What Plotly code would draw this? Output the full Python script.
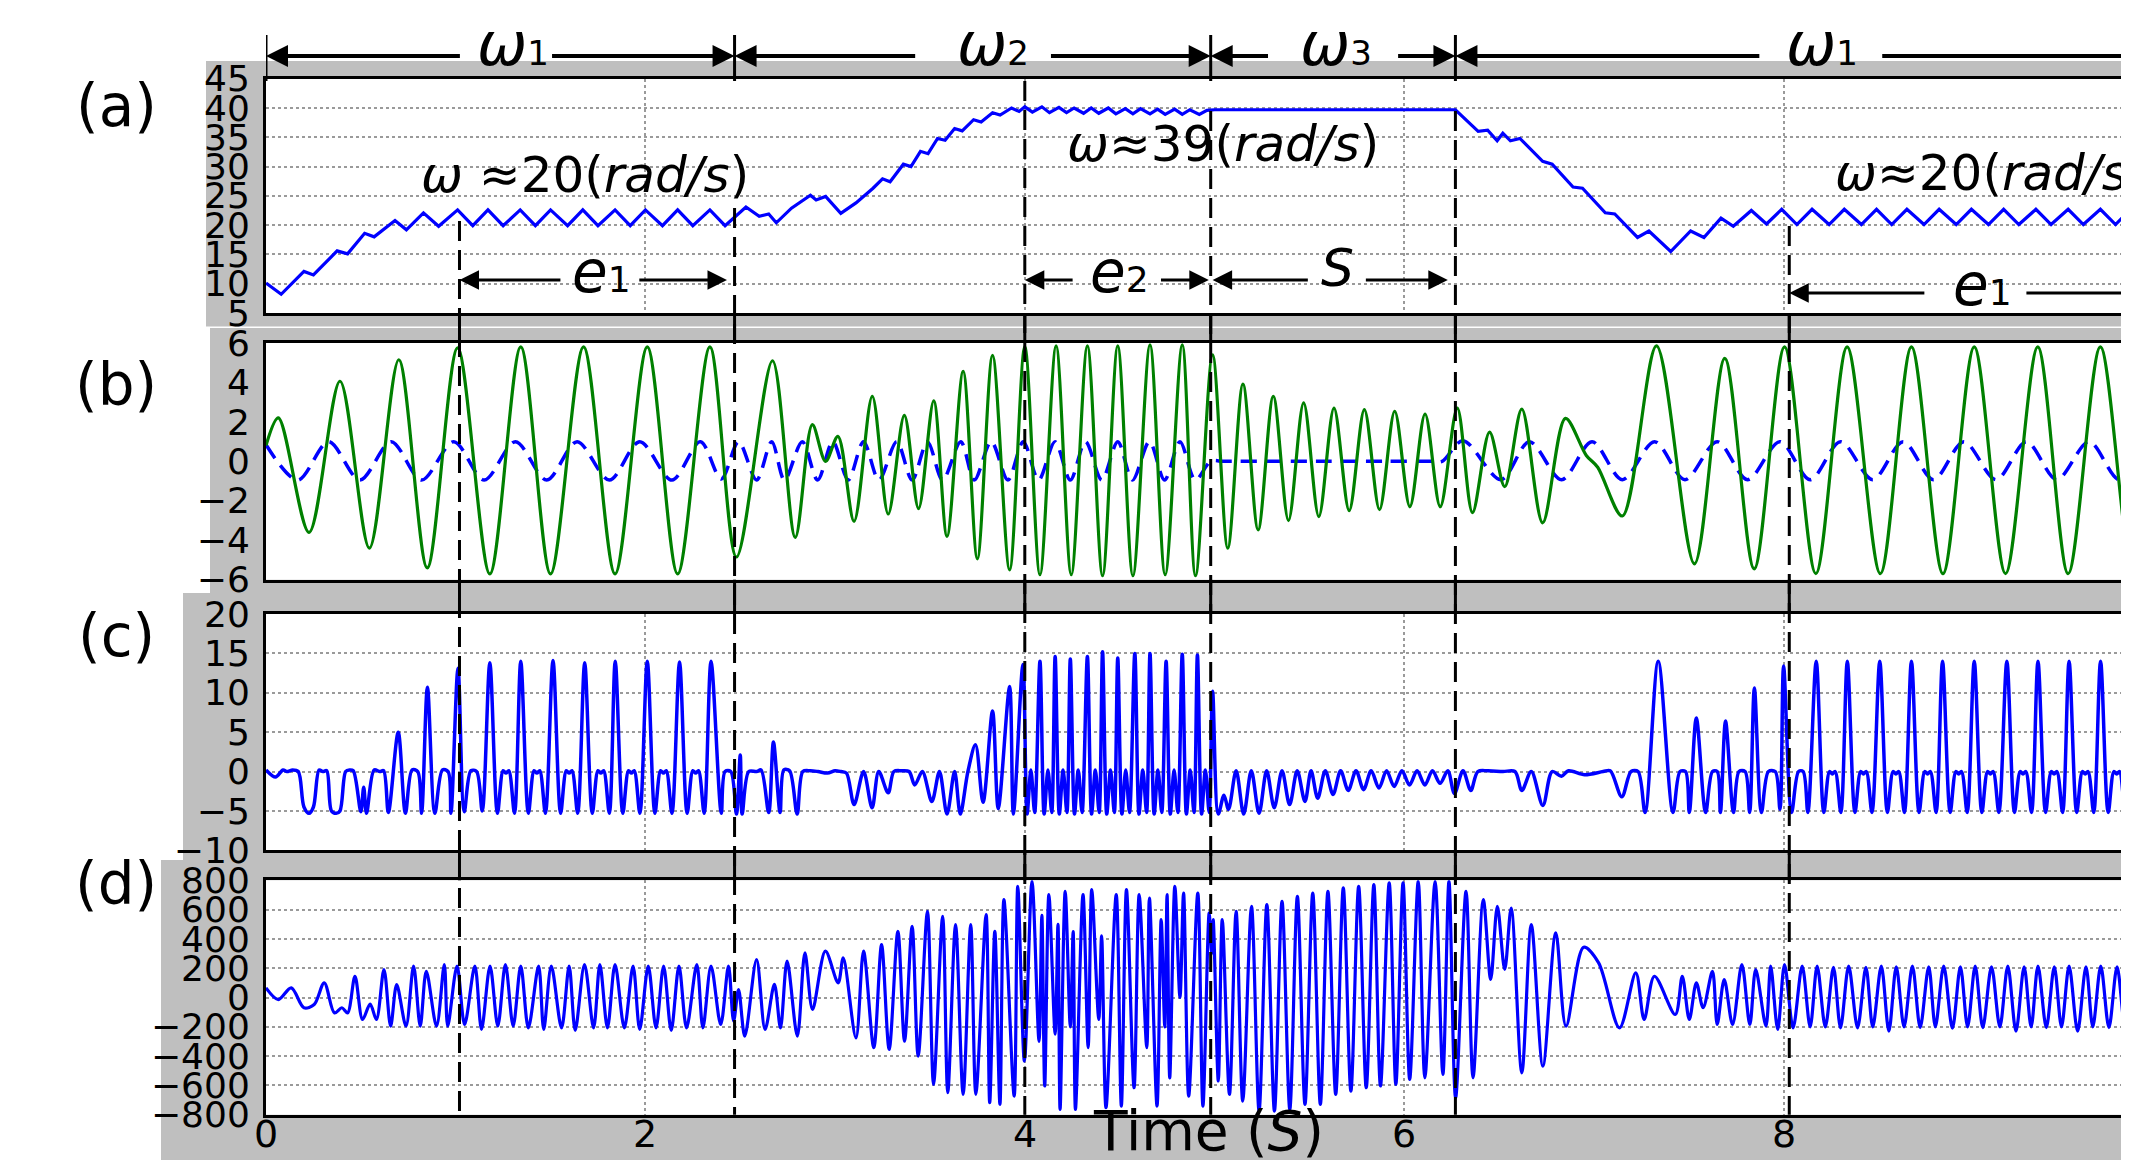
import plotly.graph_objects as go

# ---------------- data ----------------
time_ticks = [0, 2, 4, 6, 8]
grid_ticks = [2, 4, 6, 8]
y_ticks_a = [5, 10, 15, 20, 25, 30, 35, 40, 45]
y_ticks_b = [-6, -4, -2, 0, 2, 4, 6]
y_ticks_c = [-10, -5, 0, 5, 10, 15, 20]
y_ticks_d = [-800, -600, -400, -200, 0, 200, 400, 600, 800]

# (a) angular speed omega (rad/s)
omega_pts = [(0.00,10.1),(0.08,8.2),(0.20,12.1),(0.25,11.5),(0.375,15.6),(0.43,15.1),(0.52,18.6),(0.57,18.0),
 (0.68,20.8),(0.74,19.2),(0.83,22.1),(0.91,19.8),(1.01,22.6),(1.09,19.9),(1.17,22.6),(1.25,19.9),(1.34,22.6),
 (1.42,19.9),(1.50,22.6),(1.59,19.9),(1.67,22.6),(1.75,19.9),(1.84,22.6),(1.92,19.9),(2.00,22.6),(2.09,19.9),
 (2.17,22.6),(2.25,19.9),(2.34,22.6),(2.42,19.9),(2.53,23.1),(2.60,21.5),(2.65,21.9),(2.69,20.4),(2.77,22.9),
 (2.87,25.1),(2.90,24.3),(2.95,24.9),(3.03,22.0),(3.11,23.8),(3.20,26.3),(3.25,27.9),(3.29,27.4),(3.36,30.4),
 (3.40,30.0),(3.45,32.6),(3.49,32.2),(3.54,34.8),(3.58,34.5),(3.63,36.5),(3.67,36.1),(3.73,38.0),(3.77,37.6),
 (3.83,39.2),(3.87,38.8),(3.93,40.0),(3.97,39.4),(4.00,40.2),(4.04,39.3),(4.09,40.2),(4.13,39.2),(4.18,40.1),
 (4.22,39.2),(4.26,40.0),(4.31,39.1),(4.35,40.0),(4.39,39.1),(4.44,40.0),(4.48,39.0),(4.53,39.9),(4.57,39.0),
 (4.61,39.9),(4.66,39.0),(4.70,39.8),(4.74,38.9),(4.79,39.8),(4.83,38.9),(4.87,39.7),(4.92,38.9),(4.96,39.6),
 (5.00,39.7),(6.27,39.7),(6.39,36.0),(6.44,36.2),(6.49,34.4),(6.52,35.7),(6.56,34.4),(6.61,34.8),(6.73,30.9),
 (6.78,30.4),(6.89,26.5),(6.94,26.3),(7.06,22.1),(7.11,21.9),(7.23,17.9),(7.29,19.0),(7.405,15.5),(7.51,19.0),
 (7.58,17.9),(7.67,21.2),(7.735,19.8),(7.83,22.5),(7.91,20.2),(7.99,22.7),(8.07,20.1),(8.15,22.7),(8.24,20.1),
 (8.32,22.7),(8.41,20.1),(8.49,22.7),(8.57,20.1),(8.65,22.7),(8.74,20.1),(8.82,22.7),(8.91,20.1),(8.99,22.7),
 (9.08,20.1),(9.16,22.7),(9.24,20.1),(9.33,22.7),(9.41,20.1),(9.50,22.7),(9.58,20.1),(9.67,22.7),(9.75,20.1),
 (9.83,22.7),(9.92,20.1)]

# (b) green solid signal
green_pts = [(0.00,0.8),(0.065,2.2),(0.227,-3.6),(0.39,4.06),(0.545,-4.4),(0.70,5.15),(0.85,-5.4),(1.01,5.75),
 (1.18,-5.7),(1.343,5.8),(1.50,-5.7),(1.674,5.8),(1.84,-5.7),(2.01,5.8),(2.17,-5.7),(2.34,5.8),(2.48,-4.85),
 (2.67,5.1),(2.79,-3.85),(2.88,1.86),(2.95,0.0),(3.015,1.27),(3.10,-3.04),(3.196,3.3),(3.28,-2.67),(3.365,2.33),
 (3.44,-2.4),(3.52,3.07),(3.59,-3.8),(3.675,4.56),(3.75,-4.94),(3.83,5.37),(3.92,-5.5),(4.00,5.83),(4.08,-5.75),
 (4.165,5.85),(4.245,-5.75),(4.33,5.85),(4.41,-5.8),(4.49,5.85),(4.57,-5.8),(4.66,5.9),(4.74,-5.75),(4.83,5.9),
 (4.90,-5.8),(4.99,5.4),(5.07,-4.4),(5.15,3.92),(5.23,-3.47),(5.31,3.3),(5.39,-3.0),(5.47,2.96),(5.55,-2.8),
 (5.63,2.7),(5.71,-2.5),(5.79,2.62),(5.87,-2.45),(5.95,2.54),(6.03,-2.3),(6.11,2.4),(6.19,-2.3),(6.28,2.7),
 (6.36,-2.6),(6.45,1.48),(6.53,-1.28),(6.62,2.65),(6.73,-3.12),(6.85,2.18),(6.96,0.3),(7.02,-0.3),(7.15,-2.77),
 (7.33,5.85),(7.53,-5.2),(7.69,5.22),(7.845,-5.45),(8.005,5.8),(8.17,-5.69),(8.335,5.8),(8.51,-5.69),(8.674,5.8),
 (8.84,-5.69),(9.005,5.8),(9.17,-5.69),(9.34,5.8),(9.50,-5.69),(9.67,5.8),(9.84,-5.69),(9.95,0.5)]

# (b) blue dashed reference signal
ref_pts = [(0.00,0.84),(0.168,-0.95),(0.33,1.0),(0.495,-0.95),(0.66,1.0),(0.82,-0.95),(0.99,1.0),(1.15,-0.95),
 (1.315,1.0),(1.48,-0.95),(1.64,1.0),(1.81,-0.95),(1.97,1.0),(2.14,-0.95),(2.29,1.0),(2.40,-0.9),(2.491,1.0),
 (2.586,-0.95),(2.666,1.0),(2.733,-0.95),(2.827,1.0),(2.908,-0.95),(2.988,1.0),(3.069,-0.95),(3.150,1.0),
 (3.231,-0.95),(3.325,1.0),(3.406,-0.95),(3.487,1.0),(3.567,-0.95),(3.662,1.0),(3.734,-0.95),(3.823,1.0),
 (3.911,-0.95),(3.992,1.0),(4.073,-0.95),(4.159,1.0),(4.240,-0.95),(4.320,1.0),(4.406,-0.95),(4.490,1.0),
 (4.568,-0.95),(4.657,1.0),(4.737,-0.95),(4.818,1.0),(4.899,-0.95),(4.98,0.0),(5.05,0.0),(5.3,0.0),(5.6,0.0),
 (5.9,0.0),(6.15,0.0),(6.20,0.0),(6.31,1.05),
 (6.51,-0.93),(6.66,1.0),(6.83,-0.93),(6.99,1.0),(7.15,-0.93),(7.32,1.0),(7.48,-0.93),(7.65,1.0),(7.81,-0.93),
 (7.98,1.0),(8.14,-0.93),(8.30,1.0),(8.47,-0.93),(8.63,1.0),(8.79,-0.93),(8.95,1.0),(9.12,-0.93),(9.28,1.0),
 (9.44,-0.93),(9.61,1.0),(9.77,-0.93),(9.93,1.0)]

# (c) signal
c_pts = [(0.00,0.2),(0.05,-0.7),(0.09,0.2),(0.11,0.0),(0.14,0.2),(0.17,0.0),(0.20,-4.5),(0.227,-5.3),(0.25,-4.5),
 (0.28,0.2),(0.30,0.0),(0.32,0.1),(0.345,-5.0),(0.37,-5.3),(0.39,-5.0),(0.42,0.0),(0.44,0.2),(0.46,0.1),
 (0.50,-5.1),(0.515,-2.0),(0.53,-5.3),(0.57,0.2),(0.60,0.0),(0.62,0.1),(0.645,-5.2),(0.697,5.0),(0.735,-5.3),
 (0.77,0.2),(0.80,0.0),(0.82,-5.3),(0.851,10.7),(0.89,-5.3),(0.93,0.2),(0.96,0.0),(0.975,-5.3),(1.012,13.1),
 (1.045,-5.1),(1.08,0.1),(1.11,0.0),(1.14,-5.0),(1.18,13.8),(1.22,-5.3),(1.25,0.1),(1.265,-0.2),(1.28,0.1),
 (1.31,-5.3),(1.343,14.0),(1.383,-5.3),(1.413,0.1),(1.428,-0.2),(1.443,0.1),(1.473,-5.3),(1.513,14.1),
 (1.553,-5.3),(1.583,0.1),(1.598,-0.2),(1.613,0.1),(1.643,-5.3),(1.680,13.8),(1.720,-5.3),(1.750,0.1),
 (1.765,-0.2),(1.780,0.1),(1.810,-5.3),(1.841,14.0),(1.881,-5.3),(1.911,0.1),(1.926,-0.2),(1.941,0.1),
 (1.971,-5.3),(2.010,14.0),(2.050,-5.3),(2.080,0.1),(2.095,-0.2),(2.110,0.1),(2.140,-5.3),(2.180,13.9),
 (2.220,-5.3),(2.250,0.1),(2.265,-0.2),(2.280,0.1),(2.310,-5.3),(2.346,14.0),(2.40,-5.3),(2.42,0.0),(2.45,0.0),
 (2.48,-5.4),(2.50,2.1),(2.51,-5.4),(2.545,0.0),(2.586,0.0),(2.61,0.2),(2.65,-5.2),(2.675,3.75),(2.71,-5.2),
 (2.73,0.2),(2.76,0.1),(2.80,-5.4),(2.83,0.0),(2.87,0.1),(2.91,0.0),(2.96,-0.2),(3.00,0.1),(3.03,0.0),(3.06,-0.2),
 (3.10,-4.2),(3.15,0.0),(3.195,-4.6),(3.23,0.0),(3.28,-2.7),(3.31,0.0),(3.35,0.1),(3.39,0.0),(3.42,-1.7),
 (3.46,0.0),(3.51,-3.8),(3.55,0.0),(3.59,-5.4),(3.63,0.0),(3.66,-5.4),(3.70,0.0),(3.74,3.4),(3.78,-3.9),
 (3.83,7.7),(3.86,-4.7),(3.92,10.8),(3.94,-5.4),(3.99,13.6),(4.012,-5.4),(4.032,0.2),(4.052,-5.2),(4.08,14.0),
 (4.102,-5.4),(4.122,0.2),(4.142,-5.2),(4.16,14.6),(4.182,-5.4),(4.202,0.2),(4.222,-5.2),(4.24,14.3),
 (4.262,-5.4),(4.282,0.2),(4.302,-5.2),(4.33,14.6),(4.352,-5.4),(4.372,0.2),(4.392,-5.2),(4.41,15.2),
 (4.432,-5.4),(4.452,0.2),(4.472,-5.2),(4.49,14.4),(4.512,-5.4),(4.532,0.2),(4.552,-5.2),(4.58,15.0),
 (4.602,-5.4),(4.622,0.2),(4.642,-5.2),(4.66,15.0),(4.682,-5.4),(4.702,0.2),(4.722,-5.2),(4.745,14.0),
 (4.767,-5.4),(4.787,0.2),(4.807,-5.2),(4.83,14.9),(4.852,-5.4),(4.872,0.2),(4.892,-5.2),(4.91,14.8),
 (4.932,-5.4),(4.952,0.2),(4.972,-5.2),(4.99,10.2),(5.02,-5.4),(5.05,-3.0),(5.074,-4.8),(5.114,0.1),
 (5.154,-5.4),(5.194,0.1),(5.235,-5.3),(5.275,0.1),(5.315,-4.6),(5.356,0.1),(5.396,-4.2),(5.436,0.1),
 (5.477,-3.8),(5.509,0.1),(5.544,-3.4),(5.584,0.1),(5.625,-2.9),(5.665,0.1),(5.705,-2.4),(5.746,0.1),
 (5.786,-2.3),(5.826,0.1),(5.867,-2.1),(5.907,0.1),(5.947,-1.9),(5.988,0.1),(6.028,-1.7),(6.068,0.1),
 (6.109,-1.7),(6.149,0.1),(6.189,-1.5),(6.230,0.1),(6.265,-2.8),(6.31,0.1),(6.351,-2.4),(6.388,0.0),(6.44,0.1),
 (6.52,0.0),(6.584,0.0),(6.620,-2.4),(6.670,0.0),(6.731,-4.3),(6.780,0.0),(6.829,-0.6),(6.866,0.1),(6.951,-0.4),
 (7.049,0.0),(7.086,0.1),(7.147,-3.2),(7.196,0.0),(7.233,0.0),(7.270,-5.2),(7.339,14.0),(7.417,-5.2),
 (7.454,0.0),(7.483,0.0),(7.503,-5.2),(7.540,6.8),(7.589,-5.2),(7.625,0.0),(7.650,0.0),(7.667,-5.2),(7.694,6.4),
 (7.736,-5.2),(7.765,0.0),(7.797,0.0),(7.821,-5.2),(7.846,10.6),(7.883,-5.2),(7.920,0.0),(7.956,0.0),
 (7.981,-4.8),(8.000,13.4),(8.042,-5.2),(8.079,0.0),(8.103,0.0),(8.128,-5.2),(8.172,14.0),(8.212,-5.2),
 (8.242,0.0),(8.257,-0.3),(8.272,0.0),(8.302,-5.2),(8.336,14.0),(8.376,-5.2),(8.406,0.0),(8.421,-0.3),
 (8.436,0.0),(8.466,-5.2),(8.507,14.0),(8.547,-5.2),(8.577,0.0),(8.592,-0.3),(8.607,0.0),(8.637,-5.2),
 (8.674,14.0),(8.714,-5.2),(8.744,0.0),(8.759,-0.3),(8.774,0.0),(8.804,-5.2),(8.838,14.0),(8.878,-5.2),
 (8.908,0.0),(8.923,-0.3),(8.938,0.0),(8.968,-5.2),(9.005,14.0),(9.045,-5.2),(9.075,0.0),(9.090,-0.3),
 (9.105,0.0),(9.135,-5.2),(9.177,14.0),(9.217,-5.2),(9.247,0.0),(9.262,-0.3),(9.277,0.0),(9.307,-5.2),
 (9.341,14.0),(9.381,-5.2),(9.411,0.0),(9.426,-0.3),(9.441,0.0),(9.471,-5.2),(9.505,14.0),(9.545,-5.2),
 (9.575,0.0),(9.590,-0.3),(9.605,0.0),(9.635,-5.2),(9.671,14.0),(9.711,-5.2),(9.741,0.0),(9.756,-0.3),
 (9.771,0.0),(9.801,-5.2),(9.843,14.0),(9.883,-5.2),(9.913,0.0)]

# (d) signal
d_pts = [(0.00,66),(0.065,-14),(0.133,66),(0.20,-70),(0.254,-48),(0.307,100),(0.361,-105),(0.40,-70),(0.43,-105),
 (0.469,145),(0.509,-150),(0.549,-45),(0.582,-150),(0.622,191),(0.657,-195),(0.689,88),(0.738,-195),(0.778,214),
 (0.813,-195),(0.845,179),(0.899,-195),(0.94,225),(0.958,-195),(1.007,214),(1.047,-184),(1.101,214),(1.136,-218),
 (1.181,214),(1.222,-195),(1.262,225),(1.303,-195),(1.343,214),(1.383,-207),(1.437,214),(1.464,-218),(1.504,214),
 (1.558,-207),(1.598,214),(1.63,-225),(1.679,225),(1.727,-207),(1.76,225),(1.80,-207),(1.84,225),(1.889,-207),
 (1.935,214),(1.97,-218),(2.015,214),(2.056,-207),(2.096,214),(2.136,-225),(2.177,214),(2.217,-207),(2.271,225),
 (2.303,-207),(2.346,214),(2.397,-184),(2.438,214),(2.465,-161),(2.491,54),(2.524,-264),(2.586,259),(2.631,-218),
 (2.680,89),(2.712,-207),(2.747,248),(2.801,-264),(2.841,304),(2.881,-82),(2.949,316),(3.016,100),(3.043,270),
 (3.110,-275),(3.150,316),(3.204,-343),(3.245,361),(3.285,-355),(3.331,452),(3.366,-298),(3.406,486),
 (3.438,-400),(3.487,588),(3.519,-593),(3.567,554),(3.594,-650),(3.635,498),(3.675,-661),(3.715,498),
 (3.742,-661),(3.796,566),(3.815,-718),(3.842,452),(3.869,-729),(3.890,668),(3.944,-673),(3.963,759),
 (3.998,-434),(4.038,793),(4.075,-300),(4.090,560),(4.105,-604),(4.127,702),(4.160,-250),(4.175,500),
 (4.186,-764),(4.213,725),(4.240,-200),(4.255,450),(4.267,-764),(4.307,702),(4.334,-343),(4.353,736),
 (4.390,-150),(4.405,420),(4.428,-752),(4.482,702),(4.509,-741),(4.536,736),(4.576,-616),(4.603,702),
 (4.643,-343),(4.657,679),(4.697,-741),(4.719,532),(4.738,-200),(4.750,702),(4.764,-548),(4.791,759),
 (4.818,0),(4.837,713),(4.864,-673),(4.912,713),(4.939,-741),(4.972,577),(4.985,300),(4.993,532),(5.020,-570),
 (5.041,532),(5.079,-661),(5.114,588),(5.149,-707),(5.195,623),(5.235,-775),(5.276,634),(5.316,-775),
 (5.356,657),(5.397,-764),(5.437,691),(5.477,-730),(5.518,713),(5.558,-730),(5.598,725),(5.639,-661),
 (5.679,748),(5.719,-639),(5.760,759),(5.800,-616),(5.840,770),(5.875,-604),(5.921,782),(5.956,-593),
 (5.994,782),(6.029,-559),(6.074,793),(6.109,-548),(6.163,793),(6.204,-525),(6.236,793),(6.271,-684),
 (6.326,725),(6.363,-548),(6.417,668),(6.456,123),(6.491,623),(6.530,191),(6.564,611),(6.620,-514),
 (6.670,498),(6.731,-468),(6.799,441),(6.853,-196),(6.946,343),(7.025,236),(7.135,-207),(7.221,168),
 (7.265,-150),(7.319,145),(7.429,-116),(7.466,145),(7.503,-150),(7.540,100),(7.576,-70),(7.625,179),
 (7.650,-184),(7.687,123),(7.731,-184),(7.780,225),(7.822,-184),(7.853,191),(7.907,-195),(7.932,214),
 (7.969,-218),(8.005,225),(8.05,-207),(8.098,214),(8.14,-200),(8.177,214),(8.22,-200),(8.263,205),(8.30,-207),
 (8.343,214),(8.39,-207),(8.434,205),(8.47,-200),(8.515,214),(8.555,-230),(8.594,210),(8.635,-200),(8.679,214),
 (8.72,-205),(8.765,210),(8.80,-200),(8.844,214),(8.89,-210),(8.932,210),(8.97,-200),(9.010,214),(9.05,-205),
 (9.096,210),(9.14,-200),(9.182,214),(9.225,-230),(9.268,210),(9.305,-200),(9.341,214),(9.385,-205),
 (9.427,210),(9.465,-200),(9.505,214),(9.55,-230),(9.594,210),(9.63,-200),(9.672,214),(9.715,-205),
 (9.758,210),(9.80,-200),(9.843,214),(9.88,-210)]

# segment boundaries / markers (seconds)
phase_bounds = [0.0, 2.47, 4.98, 6.27]
marker_times = [1.02, 2.47, 4.0, 4.98, 6.27, 8.03]

# ---------------- geometry ----------------
W, H = 2129, 1161
X0 = 258.0
XMAX = 9.863
def fy(p):
    return 1 - p / H

panels = [(70.7, 305.0), (335.0, 571.7), (606.0, 842.3), (872.3, 1106.7)]
gray_boxes = [(198, 53, 318.5), (202, 320, 585), (175, 585, 852), (153, 852, 1152)]

BLUE = '#0000ff'
GREEN = '#008000'
TICKFONT = dict(family='DejaVu Sans', size=36, color='black')
GRIDC = '#9a9a9a'

fig = go.Figure()

def add_line(pts, xa, ya, color, width, dash='solid', shape='spline'):
    t = [p[0] for p in pts]
    v = [p[1] for p in pts]
    fig.add_trace(go.Scatter(x=t, y=v, mode='lines', xaxis=xa, yaxis=ya, showlegend=False,
                             line=dict(color=color, width=width, dash=dash, shape=shape,
                                       smoothing=0.9 if shape == 'spline' else None),
                             hoverinfo='skip'))

add_line(omega_pts, 'x', 'y', BLUE, 3.2, shape='linear')
add_line(ref_pts, 'x2', 'y2', BLUE, 3.5, dash='16px,9px')
add_line(green_pts, 'x2', 'y2', GREEN, 3.2)
add_line(c_pts, 'x3', 'y3', BLUE, 3.5)
add_line(d_pts, 'x4', 'y4', BLUE, 3.2)

def xax(anchor, grid, tickvals):
    return dict(domain=[X0 / W, 1], range=[0, XMAX], anchor=anchor, showline=True, mirror=True,
                linecolor='black', linewidth=3, showgrid=grid, gridcolor=GRIDC, griddash='dot',
                gridwidth=1.5, tickvals=tickvals, showticklabels=False, ticks='', zeroline=False,
                automargin=False)

def yax(anchor, idx, rng, tickvals, grid):
    top, bot = panels[idx]
    return dict(domain=[fy(bot), fy(top)], range=rng, anchor=anchor, showline=True, mirror=False,
                linecolor='black', linewidth=3, showgrid=grid, gridcolor=GRIDC, griddash='dot',
                gridwidth=1.5, tickvals=tickvals, ticks='', zeroline=False, tickfont=TICKFONT,
                ticklabelstandoff=6, automargin=False)

layout = dict(width=W, height=H, margin=dict(l=0, r=0, t=0, b=0, pad=0), autosize=False,
              paper_bgcolor='white', plot_bgcolor='white', showlegend=False,
              xaxis=xax('y', True, grid_ticks),
              xaxis2=xax('y2', False, grid_ticks),
              xaxis3=xax('y3', True, grid_ticks),
              xaxis4=xax('y4', True, time_ticks),
              yaxis=yax('x', 0, [5, 45], y_ticks_a, True),
              yaxis2=yax('x2', 1, [-6, 6], y_ticks_b, False),
              yaxis3=yax('x3', 2, [-10, 20], y_ticks_c, True),
              yaxis4=yax('x4', 3, [-800, 800], y_ticks_d, True))
fig.update_layout(**layout)

shapes = []
for (xl, yt, yb) in gray_boxes:
    shapes.append(dict(type='rect', xref='paper', yref='paper', x0=xl / W, x1=1.0,
                       y0=fy(yb), y1=fy(yt), fillcolor='#bfbfbf', line=dict(width=0), layer='below'))
for (top, bot) in panels:
    shapes.append(dict(type='rect', xref='paper', yref='paper', x0=X0 / W, x1=1.0,
                       y0=fy(bot), y1=fy(top), fillcolor='white', line=dict(width=0), layer='below'))

# vertical marker lines: dashed inside panels, solid across the gray gaps
dash_start = {1.02: 213, 2.47: 200, 4.0: 73, 4.98: 103, 6.27: 103, 8.03: 218}
gaps = [(305, 335), (571.7, 606), (842.3, 872.3)]
for t in marker_times:
    shapes.append(dict(type='line', xref='x4', yref='paper', x0=t, x1=t, y0=fy(dash_start[t]), y1=fy(1106.7),
                       line=dict(color='black', width=3, dash='20px,9px')))
    for (g0, g1) in gaps:
        shapes.append(dict(type='line', xref='x4', yref='paper', x0=t, x1=t, y0=fy(g0), y1=fy(g1),
                           line=dict(color='black', width=3)))
# end bars of the top omega arrows
for t in phase_bounds:
    shapes.append(dict(type='line', xref='x4', yref='paper', x0=t, x1=t, y0=fy(27), y1=fy(73),
                       line=dict(color='black', width=3)))
# open-ended lines running off the right edge
shapes.append(dict(type='line', xref='x4', yref='paper', x0=8.52, x1=10.2, y0=fy(48), y1=fy(48),
                   line=dict(color='black', width=4)))
shapes.append(dict(type='line', xref='x4', yref='paper', x0=9.28, x1=10.2, y0=fy(285), y1=fy(285),
                   line=dict(color='black', width=3)))
fig.update_layout(shapes=shapes)

ann = []
def arrow(head, tail, ypx, width, size):
    ann.append(dict(x=head, y=fy(ypx), xref='x4', yref='paper', ax=tail, ay=0, axref='x4', ayref='pixel',
                    text='', showarrow=True, arrowhead=2, arrowsize=size, arrowwidth=width,
                    arrowcolor='black', standoff=0, startstandoff=0))

# top omega arrows
for head, tail in [(0.0, 1.03), (2.47, 1.50), (2.47, 3.43), (4.98, 4.13), (4.98, 5.29), (6.27, 5.96),
                   (6.27, 7.88)]:
    arrow(head, tail, 48, 4, 1.1)
# e / s arrows
for head, tail in [(1.02, 1.56), (2.43, 1.96), (4.0, 4.26), (4.97, 4.71), (4.99, 5.50), (6.23, 5.79)]:
    arrow(head, tail, 272, 3, 1.3)
arrow(8.03, 8.75, 285, 3, 1.3)

def label(text, x, ypx, size, xanchor='center', family='DejaVu Sans'):
    ann.append(dict(x=x, y=fy(ypx), xref='x4', yref='paper', text=text, showarrow=False,
                    xanchor=xanchor, yanchor='middle', font=dict(family=family, size=size, color='black')))

SUB = "<span style='font-size:34px'>%s</span>"
for sym, idx, x in [('ω', '1', 1.30), ('ω', '2', 3.83), ('ω', '3', 5.64), ('ω', '1', 8.20)]:
    label('<i>%s</i>' % sym + SUB % idx, x, 36, 60)
SUBE = "<span style='font-size:36px'>%s</span>"
label('<i>e</i>' + SUBE % '1', 1.77, 264, 58)
label('<i>e</i>' + SUBE % '2', 4.50, 264, 58)
label('<i>S</i>', 5.65, 260, 52)
label('<i>e</i>' + SUBE % '1', 9.05, 277, 58)

label('<i>ω</i> ≈20(<i>rad/s</i>)', 1.68, 167, 50)
label('<i>ω</i>≈39(<i>rad/s</i>)', 5.045, 136, 50)
label('<i>ω</i>≈20(<i>rad/s</i>)', 8.26, 165, 50, xanchor='left')
label('Time (<i>S</i>)', 4.97, 1123, 55)

# x tick labels of the bottom panel
for t in time_ticks:
    label(str(t), t, 1126, 38)

for txt, ypx in [('(a)', 98), ('(b)', 377), ('(c)', 628), ('(d)', 876)]:
    ann.append(dict(x=108 / W, y=fy(ypx), xref='paper', yref='paper', text=txt, showarrow=False,
                    xanchor='center', yanchor='middle', font=dict(family='DejaVu Sans', size=58, color='black')))

fig.update_layout(annotations=ann)
fig.write_html('out.html')
